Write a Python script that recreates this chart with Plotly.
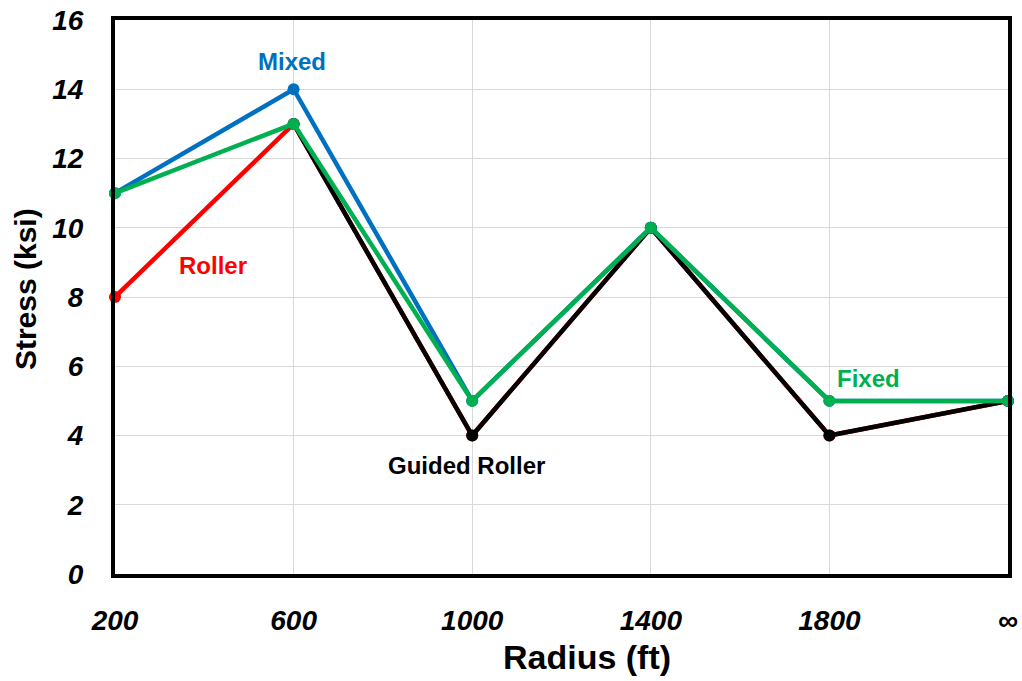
import plotly.graph_objects as go

categories = ["200", "600", "1000", "1400", "1800", "∞"]
roller = [8, 13, 4, 10, 4, 5]
guided_roller = [None, 13, 4, 10, 4, 5]
mixed = [11, 14, 5, 10, 5, 5]
fixed = [11, 13, 5, 10, 5, 5]
y_ticks = [0, 2, 4, 6, 8, 10, 12, 14, 16]

xs = list(range(len(categories)))
fig = go.Figure()
series = [
    ("Roller", roller, "#FF0000"),
    ("Guided Roller", guided_roller, "#000000"),
    ("Mixed", mixed, "#0070C0"),
    ("Fixed", fixed, "#00B050"),
]
for name, vals, col in series:
    fig.add_trace(go.Scatter(x=xs, y=vals, mode="lines+markers", name=name,
                             line=dict(color=col, width=4.5),
                             marker=dict(color=col, size=12),
                             cliponaxis=False, connectgaps=False))

labels = [
    ("Mixed", 0.99, 14.8, "#0070C0"),
    ("Roller", 0.55, 8.92, "#FF0000"),
    ("Guided Roller", 1.97, 3.12, "#000000"),
    ("Fixed", 4.22, 5.66, "#00B050"),
]
for txt, x, y, col in labels:
    fig.add_annotation(x=x, y=y, xref="x", yref="y", text=txt, showarrow=False,
                       font=dict(family="Liberation Sans", size=24, color=col, weight="bold"))

fig.add_annotation(x=0.5286, y=-0.150, xref="paper", yref="paper", text="Radius (ft)",
                   showarrow=False, yanchor="middle",
                   font=dict(family="Liberation Sans", size=34, color="black", weight="bold"))
fig.add_annotation(x=-0.101, y=0.514, xref="paper", yref="paper", text="Stress (ksi)",
                   showarrow=False, textangle=-90, xanchor="center", yanchor="middle",
                   font=dict(family="Liberation Sans", size=30, color="black", weight="bold"))

tickfont = dict(family="Liberation Sans", size=28, color="black", weight="bold", style="italic")
fig.update_layout(
    width=1022, height=681,
    margin=dict(l=115, r=14, t=20, b=107),
    paper_bgcolor="white", plot_bgcolor="white",
    showlegend=False,
    xaxis=dict(range=[0, 5], tickmode="array", tickvals=xs, ticktext=categories,
               showgrid=True, gridcolor="#D9D9D9", gridwidth=1,
               showline=True, linecolor="black", linewidth=4, mirror=True,
               zeroline=False, tickfont=tickfont, ticks="", ticklabelstandoff=18,
               automargin=False, ticklabeloverflow="allow"),
    yaxis=dict(range=[0, 16], tickmode="array", tickvals=y_ticks,
               showgrid=True, gridcolor="#D9D9D9", gridwidth=1,
               showline=True, linecolor="black", linewidth=4, mirror=True,
               zeroline=False, tickfont=tickfont, ticks="", ticklabelstandoff=22,
               automargin=False, ticklabeloverflow="allow"),
)
fig.write_html("out.html", config={"displayModeBar": False},
               post_script="document.body.style.margin='0';")
